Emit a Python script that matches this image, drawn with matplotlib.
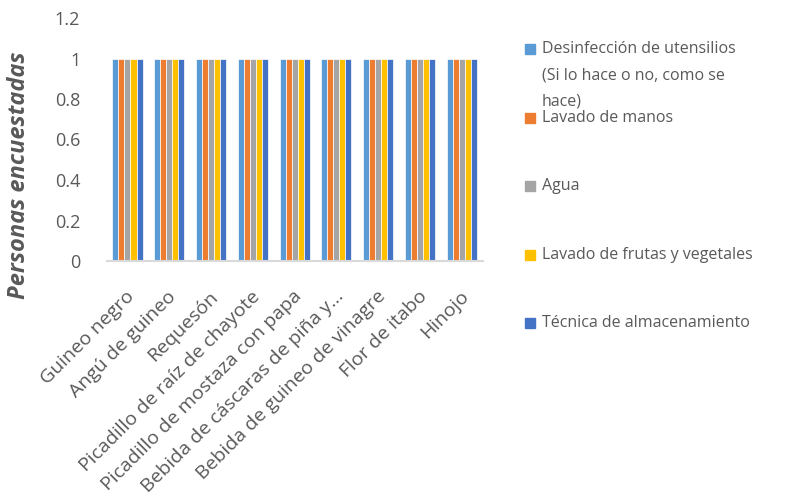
import matplotlib
matplotlib.use("Agg")
import matplotlib.pyplot as plt
import matplotlib.transforms as mtransforms
import numpy as np
from matplotlib.patches import Rectangle

categories = ["Guineo negro", "Angú de guineo", "Requesón", "Picadillo de raíz de chayote",
              "Picadillo de mostaza con papa", "Bebida de cáscaras de piña y…",
              "Bebida de guineo de vinagre", "Flor de itabo", "Hinojo"]
series_names = ["Desinfección de utensilios\n(Si lo hace o no, como se\nhace)",
                "Lavado de manos", "Agua", "Lavado de frutas y vegetales",
                "Técnica de almacenamiento"]
desinfeccion = [1, 1, 1, 1, 1, 1, 1, 1, 1]
lavado_manos = [1, 1, 1, 1, 1, 1, 1, 1, 1]
agua = [1, 1, 1, 1, 1, 1, 1, 1, 1]
lavado_frutas = [1, 1, 1, 1, 1, 1, 1, 1, 1]
almacenamiento = [1, 1, 1, 1, 1, 1, 1, 1, 1]
yticks = [0, 0.2, 0.4, 0.6, 0.8, 1, 1.2]
ytick_labels = ["0", "0.2", "0.4", "0.6", "0.8", "1", "1.2"]

colors = ["#5B9BD5", "#ED7D31", "#A5A5A5", "#FFC000", "#4472C4"]
series = [desinfeccion, lavado_manos, agua, lavado_frutas, almacenamiento]

plt.rcParams['font.family'] = ['Open Sans', 'DejaVu Sans']
fig = plt.figure(figsize=(7.88, 4.95), dpi=100)
ax = fig.add_axes([106.6 / 788, 1 - 261 / 495, 376 / 788, 243 / 495])

x = np.arange(len(categories))
n = len(series)
group_w = 0.72
bw = group_w / n
for i, (vals, c) in enumerate(zip(series, colors)):
    ax.bar(x - group_w / 2 + bw * (i + 0.5), vals, width=bw, color=c,
           edgecolor="white", linewidth=0.5)

ax.set_xlim(-0.5, len(categories) - 0.5)
ax.set_ylim(0, 1.2)
ax.set_yticks(yticks)
ax.set_yticklabels(ytick_labels, color="#595959", fontsize=13)
ax.tick_params(axis="y", length=0, pad=19)
ax.set_xticks(x)
ax.set_xticklabels(categories, rotation=45, ha="right", rotation_mode="anchor",
                   color="#595959", fontsize=14)
ax.tick_params(axis="x", length=0, pad=19)
offset = mtransforms.ScaledTranslation(-2 / 100, 0, fig.dpi_scale_trans)
for lab in ax.get_xticklabels():
    lab.set_transform(lab.get_transform() + offset)
for s in ["top", "right", "left"]:
    ax.spines[s].set_visible(False)
ax.spines["bottom"].set_color("#D9D9D9")
ax.spines["bottom"].set_linewidth(1.5)

fig.text(19 / 788, 1 - 175 / 495, "Personas encuestadas", rotation=90, ha="center",
         va="center", fontsize=17, fontweight="bold", fontstyle="italic",
         color="#595959")

# Legend
leg_y = [49, 118, 186, 255, 323]
for name, c, yy in zip(series_names, colors, leg_y):
    ybox = 1 - yy / 495
    fig.patches.append(Rectangle((525 / 788, ybox - 5 / 495), 10 / 788, 10 / 495,
                                 transform=fig.transFigure, color=c))
    for k, line in enumerate(name.split("\n")):
        fig.text(542 / 788, 1 - (yy + 26.5 * k) / 495, line, ha="left",
                 va="center", fontsize=11.5, color="#595959")

fig.savefig("out.png", dpi=100)
